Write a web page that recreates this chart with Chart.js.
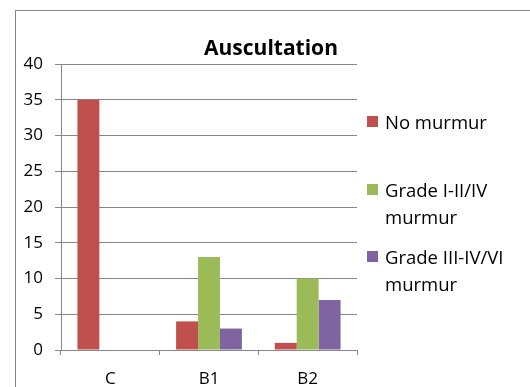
<!DOCTYPE html>
<html lang="en">
<head>
  <meta charset="UTF-8" />
  <title>Auscultation</title>
  <script src="https://cdn.jsdelivr.net/npm/chart.js"></script>
  <style>
    html, body {
      margin: 0;
      padding: 0;
      background: #fff;
      overflow: hidden;
    }
    .frame {
      position: absolute;
      left: 15px;
      top: 10px;
      width: 600px;
      height: 500px;
      border: 1px solid #868686;
    }
    .wrap {
      position: absolute;
      left: 0;
      top: 0;
      width: 530px;
      height: 387px;
    }
    #title {
      position: absolute;
      left: 171px;
      top: 33px;
      width: 200px;
      text-align: center;
      font-family: 'Open Sans', sans-serif;
      font-weight: bold;
      font-size: 21px;
      line-height: 28px;
      color: #000;
    }
    #legend {
      position: absolute;
      left: 367px;
      top: 0;
      width: 150px;
      font-family: 'Open Sans', sans-serif;
      font-size: 18.5px;
      line-height: 27px;
      color: #000;
    }
    #legend .item {
      position: absolute;
      left: 0;
      width: 150px;
      padding-left: 18px;
    }
    #legend .item:nth-child(1) { top: 108px; }
    #legend .item:nth-child(2) { top: 176px; }
    #legend .item:nth-child(3) { top: 243px; }
    #legend .box {
      position: absolute;
      left: 0;
      top: 8px;
      width: 11px;
      height: 11px;
    }
  </style>
</head>
<body>
  <div class="frame"></div>
  <div class="wrap">
    <canvas id="chart" width="530" height="387"></canvas>
  </div>
  <div id="title">Auscultation</div>
  <div id="legend"></div>

  <script>
    const categories = ['C', 'B1', 'B2'];
    const noMurmur = [35, 4, 1];
    const gradeLow = [0, 13, 10];
    const gradeHigh = [0, 3, 7];
    const seriesNames = ['No murmur', 'Grade I-II/IV murmur', 'Grade III-IV/VI murmur'];
    const seriesColors = ['#C0504D', '#9BBB59', '#8064A2'];

    const grey = '#868686';
    const font = { family: "'Open Sans', sans-serif", size: 17 };

    const chart = new Chart(document.getElementById('chart'), {
      type: 'bar',
      data: {
        labels: categories,
        datasets: [noMurmur, gradeLow, gradeHigh].map((d, i) => ({
          label: seriesNames[i],
          data: d,
          backgroundColor: seriesColors[i],
          borderWidth: 0,
          categoryPercentage: 0.667,
          barPercentage: 1
        }))
      },
      options: {
        responsive: false,
        animation: false,
        layout: {
          padding: { left: 14, right: 173, top: 64, bottom: 0 }
        },
        plugins: {
          legend: { display: false },
          tooltip: { enabled: false },
          title: { display: false }
        },
        scales: {
          x: {
            grid: {
              offset: true,
              drawOnChartArea: false,
              drawTicks: true,
              tickLength: 5,
              color: grey
            },
            border: { color: grey },
            ticks: { color: '#000', font: font, padding: 14 },
            afterFit: s => { s.height = 37; }
          },
          y: {
            min: 0,
            max: 40,
            ticks: { stepSize: 5, color: '#000', font: font, padding: 12 },
            grid: { color: grey, tickLength: 6 },
            border: { color: grey },
            afterFit: s => { s.width = 47; }
          }
        }
      }
    });

    // legend with wrapping labels, built from the datasets
    const legend = document.getElementById('legend');
    chart.data.datasets.forEach(ds => {
      const item = document.createElement('div');
      item.className = 'item';
      item.innerHTML = '<span class="box" style="background:' + ds.backgroundColor + '"></span>' + ds.label;
      legend.appendChild(item);
    });
  </script>
</body>
</html>
